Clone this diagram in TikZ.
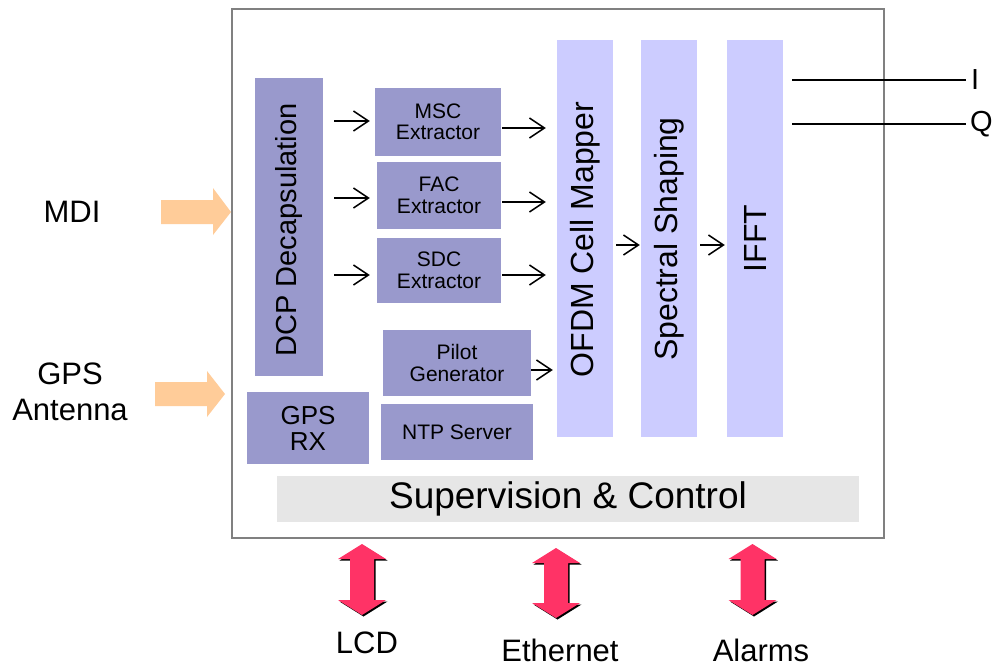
\documentclass[tikz,border=0pt]{standalone}
\usepackage{fontspec}
\setmainfont{Liberation Sans}
\usetikzlibrary{arrows.meta,calc}
\definecolor{darkblk}{HTML}{9999CC}
\definecolor{lightblk}{HTML}{CCCCFF}
\definecolor{supg}{HTML}{E6E6E6}
\definecolor{orng}{HTML}{FFCC99}
\definecolor{pnk}{HTML}{FF3366}
\definecolor{framec}{HTML}{808080}
\tikzset{
 blk/.style={fill=darkblk, inner sep=0pt, align=center, font=\fontsize{21}{21.5}\selectfont},
 col/.style={fill=lightblk, inner sep=0pt, minimum width=56pt, minimum height=397pt},
 coltext/.style={rotate=90, inner sep=0pt, font=\fontsize{32}{36}\selectfont},
 arr/.style={-{Straight Barb[length=15pt,width=20pt]}, line width=1.5pt},
 lbl/.style={font=\fontsize{31}{32}\selectfont, align=center, inner sep=0pt},
 botlbl/.style={font=\fontsize{31}{32}\selectfont, inner sep=0pt, anchor=base},
 inarrow/.style={fill=orng},
 ioarrow/.style={fill=pnk},
}
\newcommand\dblarrow[3]{%
  \fill[black] ({#1+1.5},{#2+1.5}) -- ({#1+25.5},{#2+16.5}) -- ({#1+13.5},{#2+16.5}) -- ({#1+13.5},{#3-13.5}) -- ({#1+25.5},{#3-13.5}) -- ({#1+1.5},{#3+1.5}) -- ({#1-22.5},{#3-13.5}) -- ({#1-10.5},{#3-13.5}) -- ({#1-10.5},{#2+16.5}) -- ({#1-22.5},{#2+16.5}) -- cycle;
  \fill[ioarrow] (#1,#2) -- ({#1+24},{#2+15}) -- ({#1+12},{#2+15}) -- ({#1+12},{#3-15}) -- ({#1+24},{#3-15}) -- (#1,#3) -- ({#1-24},{#3-15}) -- ({#1-12},{#3-15}) -- ({#1-12},{#2+15}) -- ({#1-24},{#2+15}) -- cycle;
}
\begin{document}
\begin{tikzpicture}[x=1pt,y=-1pt]
\useasboundingbox (0,0) rectangle (998,665);
\fill[white] (0,0) rectangle (998,665);
% main frame
\node[draw=framec, line width=1.8pt, inner sep=0pt, minimum width=652pt, minimum height=529pt] (frame) at (558,273.5) {};

% left column
\node[blk, minimum width=68pt, minimum height=298pt] (dcp) at (289,227) {};
\node[rotate=90, inner sep=0pt, font=\fontsize{29}{32}\selectfont] (dcpt) at (289,230) {DCP Decapsulation};
\node[blk, minimum width=122pt, minimum height=72pt, font=\fontsize{26}{26}\selectfont] (gps) at (308,428) {GPS\\RX};

% extractors
\node[blk, minimum width=126pt, minimum height=68pt] (msc) at (438,122) {MSC\\Extractor};
\node[blk, minimum width=124pt, minimum height=67pt] (fac) at (439,195.5) {FAC\\Extractor};
\node[blk, minimum width=124pt, minimum height=65pt] (sdc) at (439,270.5) {SDC\\Extractor};
\node[blk, minimum width=148pt, minimum height=66pt] (pilot) at (457,363) {Pilot\\Generator};
\node[blk, minimum width=152pt, minimum height=56pt] (ntp) at (457,432) {NTP Server};

% columns
\node[col] (ofdm) at (585,238.5) {};
\node[coltext] (ofdmt) at (585,239.5) {OFDM Cell Mapper};
\node[col] (spec) at (669,238.5) {};
\node[coltext] (spect) at (669,239) {Spectral Shaping};
\node[col] (ifft) at (755,238.5) {};
\node[coltext] (ifftt) at (755,238.5) {IFFT};

% supervision
\node[fill=supg, inner sep=0pt, minimum width=582pt, minimum height=46pt, font=\fontsize{37}{40}\selectfont] (sup) at (568,499) {Supervision \& Control};

% arrows DCP -> extractors
\draw[arr, shorten <=11pt, shorten >=5pt] ([yshift=1pt]msc.west -| dcp.east) -- ([yshift=1pt]msc.west);
\draw[arr, shorten <=11pt, shorten >=7pt] ([yshift=-2.5pt]fac.west -| dcp.east) -- ([yshift=-2.5pt]fac.west);
\draw[arr, shorten <=11pt, shorten >=7pt] ([yshift=-4.5pt]sdc.west -| dcp.east) -- ([yshift=-4.5pt]sdc.west);

% extractors -> OFDM
\draw[arr, shorten <=1pt, shorten >=11pt] ([yshift=-6pt]msc.east) -- ([yshift=-6pt]msc.east -| ofdm.west);
\draw[arr, shorten <=1pt, shorten >=11pt] ([yshift=-6.5pt]fac.east) -- ([yshift=-6.5pt]fac.east -| ofdm.west);
\draw[arr, shorten <=1pt, shorten >=11pt] ([yshift=-4.5pt]sdc.east) -- ([yshift=-4.5pt]sdc.east -| ofdm.west);
\draw[arr, shorten >=4pt] ([yshift=-7pt]pilot.east) -- ([yshift=-7pt]pilot.east -| ofdm.west);

% chain
\draw[arr, shorten <=3pt, shorten >=1pt] ([yshift=-6.5pt]ofdm.east) -- ([yshift=-6.5pt]spec.west);
\draw[arr, shorten <=3pt, shorten >=2pt] ([yshift=-6.5pt]spec.east) -- ([yshift=-6.5pt]ifft.west);

% I/Q outputs
\coordinate (iout) at (966,80);
\coordinate (qout) at (966,124);
\draw[line width=1.3pt] ([xshift=9pt]ifft.east |- iout) -- (iout);
\draw[line width=1.3pt] ([xshift=9pt]ifft.east |- qout) -- (qout);
\node[lbl, anchor=west, font=\fontsize{29}{30}\selectfont] (ilbl) at ([xshift=5pt]iout) {I};
\node[lbl, anchor=west, font=\fontsize{29}{30}\selectfont] (qlbl) at ([xshift=4pt]qout) {Q};

% input arrows
\fill[inarrow] (161,200) -- (213,200) -- (213,188) -- (231,212) -- (213,235) -- (213,224) -- (161,224) -- cycle;
\fill[inarrow] (155,382) -- (207,382) -- (207,371) -- (225,394) -- (207,417) -- (207,406) -- (155,406) -- cycle;
\node[lbl] (mdi) at (72,211.5) {MDI};
\node[lbl, font=\fontsize{31}{36}\selectfont] (gpsant) at (70,392) {GPS\\Antenna};

% bidirectional arrows
\dblarrow{362}{544}{615}
\dblarrow{556}{548}{618}
\dblarrow{752.5}{544}{615}
\node[botlbl] (lcd) at (367,653) {LCD};
\node[botlbl] (eth) at (560,661) {Ethernet};
\node[botlbl] (alm) at (761,661) {Alarms};
\end{tikzpicture}
\end{document}
